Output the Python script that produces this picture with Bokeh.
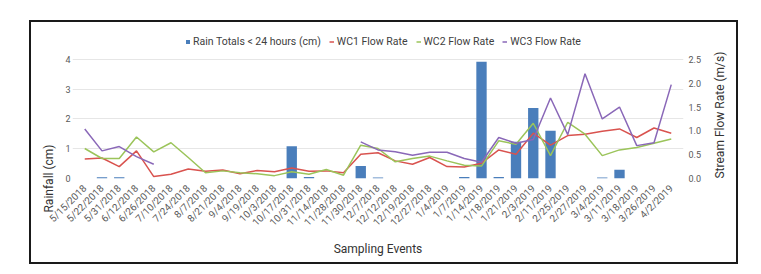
import math
from bokeh.plotting import figure
from bokeh.layouts import column, row
from bokeh.models import (Range1d, LinearAxis, FixedTicker, NumeralTickFormatter,
                          Legend, LegendItem, FactorRange, ColumnDataSource, Spacer)
from bokeh.embed import file_html
from bokeh.resources import INLINE

nan = float("nan")

dates = ["5/15/2018", "5/22/2018", "5/31/2018", "6/12/2018", "6/26/2018", "7/10/2018",
         "7/24/2018", "8/7/2018", "8/21/2018", "9/4/2018", "9/19/2018", "10/3/2018",
         "10/17/2018", "10/31/2018", "11/14/2018", "11/28/2018", "11/30/2018", "12/7/2018",
         "12/12/2018", "12/19/2018", "12/27/2018", "1/4/2019", "1/7/2019", "1/14/2019",
         "1/18/2019", "1/21/2019", "2/3/2019", "2/11/2019", "2/25/2019", "2/27/2019",
         "3/4/2019", "3/11/2019", "3/18/2019", "3/26/2019", "4/2/2019"]

rain = [0, 0.04, 0.04, 0, 0, 0, 0, 0, 0, 0, 0, 0, 1.08, 0.05, 0, 0, 0.42, 0.03,
        0, 0, 0, 0, 0.05, 3.92, 0.05, 1.23, 2.37, 1.6, 0, 0, 0.03, 0.29, 0, 0, 0]

wc1 = [0.41, 0.43, 0.25, 0.58, 0.04, 0.09, 0.20, 0.15, 0.18, 0.10, 0.17, 0.14,
       0.22, 0.15, 0.16, 0.12, 0.51, 0.54, 0.37, 0.30, 0.44, 0.25, 0.24, 0.32,
       0.60, 0.51, 0.95, 0.70, 0.90, 0.93, 0.99, 1.04, 0.86, 1.06, 0.95]

wc2 = [0.63, 0.42, 0.42, 0.87, 0.56, 0.75, 0.44, 0.12, 0.16, 0.12, 0.10, 0.06,
       0.14, 0.09, 0.19, 0.07, 0.70, 0.63, 0.35, 0.42, 0.47, 0.37, 0.28, 0.26,
       0.79, 0.72, 1.16, 0.48, 1.18, 0.93, 0.48, 0.60, 0.65, 0.74, 0.83]

wc3 = [1.04, 0.58, 0.67, 0.46, 0.30, nan, nan, nan, nan, nan, nan, nan,
       nan, nan, nan, nan, 0.77, 0.60, 0.56, 0.49, 0.55, 0.55, 0.42, 0.34,
       0.86, 0.74, 0.82, 1.69, 0.92, 2.20, 1.25, 1.50, 0.69, 0.75, 1.97]

rain_ticks = [0, 1, 2, 3, 4]
flow_ticks = [0, 0.5, 1.0, 1.5, 2.0, 2.5]

FONT = "Roboto"
BLUE = "#4A7EBB"
RED = "#D9534F"
GREEN = "#9BC45A"
PURPLE = "#8A68B8"

src = ColumnDataSource(dict(d=dates, rain=rain, wc1=wc1, wc2=wc2, wc3=wc3))

# frame extends above the top gridline to host the legend (same scale: 4 cm <-> 2.5 m/s)
TOP_L = 4.97
TOP_R = TOP_L * 2.5 / 4

p = figure(width=705, height=240, output_backend="svg", toolbar_location=None,
           x_range=FactorRange(factors=dates, range_padding=0.012),
           y_range=Range1d(0, TOP_L),
           min_border_left=41, min_border_right=57, min_border_top=8, min_border_bottom=88)
p.styles = {"border": "2px solid #1a1a1a", "box-sizing": "content-box"}
p.outline_line_color = None
p.extra_y_ranges = {"flow": Range1d(0, TOP_R)}

bars = p.vbar(x="d", top="rain", width=0.6, source=src, fill_color=BLUE, line_color=None)
l1 = p.line(x="d", y="wc1", source=src, line_color=RED, line_width=1.5, y_range_name="flow")
l2 = p.line(x="d", y="wc2", source=src, line_color=GREEN, line_width=1.5, y_range_name="flow")
l3 = p.line(x="d", y="wc3", source=src, line_color=PURPLE, line_width=1.5, y_range_name="flow")

ya = p.yaxis[0]
ya.ticker = FixedTicker(ticks=rain_ticks)
ya.axis_label = "Rainfall (cm)"

ra = LinearAxis(y_range_name="flow", ticker=FixedTicker(ticks=flow_ticks),
                formatter=NumeralTickFormatter(format="0.0"),
                axis_label="Stream Flow Rate (m/s)")
p.add_layout(ra, "right")
ra.axis_label_orientation = math.pi / 2
ya.axis_label_align = "start"
ra.axis_label_align = "start"

xa = p.xaxis[0]
xa.axis_label = "Sampling Events"
xa.major_label_orientation = math.pi / 4
xa.major_label_text_font_size = "10px"

for ax in [ya, ra, xa]:
    ax.axis_line_color = None
    ax.major_tick_line_color = None
    ax.minor_tick_line_color = None
    ax.major_tick_out = 0
    ax.major_tick_in = 0
    ax.minor_tick_out = 0
    ax.major_label_text_font = FONT
    ax.major_label_text_color = "#595959"
    ax.axis_label_text_font = FONT
    ax.axis_label_text_font_style = "normal"
    ax.axis_label_text_font_size = "12px"
    ax.axis_label_text_color = "#333333"

xa.major_label_standoff = 8
xa.axis_label_standoff = 7
ya.major_label_text_font_size = "9px"
ra.major_label_text_font_size = "9px"
ya.major_label_standoff = 2
ra.major_label_standoff = 5
ya.axis_label_standoff = 6
ra.axis_label_standoff = 16

p.xgrid.grid_line_color = None
p.ygrid.grid_line_color = "#E6E6E6"
p.ygrid.grid_line_width = 1

legend = Legend(items=[
    LegendItem(label="Rain Totals < 24 hours (cm)", renderers=[bars]),
    LegendItem(label="WC1 Flow Rate", renderers=[l1]),
    LegendItem(label="WC2 Flow Rate", renderers=[l2]),
    LegendItem(label="WC3 Flow Rate", renderers=[l3]),
], orientation="horizontal", location=(113, 130))
legend.glyph_width = 5
legend.glyph_height = 5
legend.label_height = 12
legend.label_standoff = 3
legend.spacing = 8
legend.margin = 0
legend.padding = 1
legend.label_text_font = FONT
legend.label_text_font_size = "10.5px"
legend.label_text_color = "#404040"
legend.border_line_color = None
legend.background_fill_alpha = 0
p.add_layout(legend, "center")

layout = column(Spacer(height=20), row(Spacer(width=29), p))
open("out.html", "w").write(file_html(layout, INLINE))
